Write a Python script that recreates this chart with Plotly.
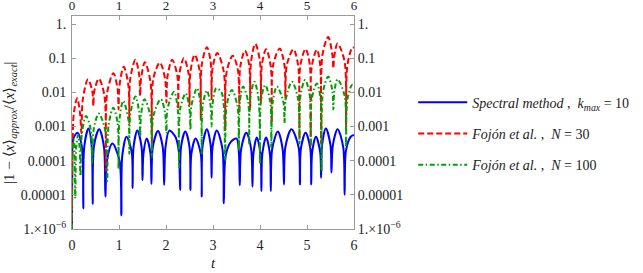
import plotly.graph_objects as go

# ---- data (log10 of the plotted quantity) ----
blue_t = [0.0, 0.005, 0.03, 0.12, 0.21, 0.24,
          0.26, 0.35, 0.42, 0.44,
          0.47, 0.58, 0.68, 0.71,
          0.75, 0.86, 1.01, 1.05,
          1.07, 1.16, 1.27, 1.29,
          1.31, 1.39, 1.48, 1.50,
          1.52, 1.59, 1.67, 1.69,
          1.72, 1.83, 1.93, 1.96,
          1.99, 2.07, 2.20, 2.27, 2.30,
          2.32, 2.41, 2.50, 2.52,
          2.54, 2.63, 2.74, 2.76,
          2.78, 2.87, 2.95, 2.97,
          2.99, 3.08, 3.20, 3.23,
          3.27, 3.38, 3.50, 3.55, 3.57,
          3.60, 3.71, 3.81, 3.84,
          3.86, 3.93, 4.01, 4.03,
          4.05, 4.13, 4.21, 4.23,
          4.26, 4.38, 4.48, 4.51,
          4.54, 4.67, 4.82, 4.85,
          4.87, 4.97, 5.07, 5.09,
          5.11, 5.19, 5.28, 5.30,
          5.32, 5.40, 5.50, 5.52,
          5.55, 5.65, 5.77, 5.80,
          5.83, 5.93, 6.0]
blue_log10 = [-6.0, -4.5, -3.35, -3.18, -3.6, -5.4,
              -3.6, -3.06, -3.6, -5.27,
              -3.55, -3.08, -3.6, -5.05,
              -3.95, -3.5, -4.0, -5.6,
              -3.85, -3.3, -3.75, -4.8,
              -3.6, -3.12, -3.6, -4.57,
              -3.8, -3.35, -3.8, -4.68,
              -3.6, -3.13, -3.6, -4.71,
              -3.6, -3.12, -3.3, -3.7, -4.86,
              -3.6, -3.15, -3.6, -4.86,
              -3.8, -3.35, -3.8, -5.05,
              -3.55, -3.08, -3.55, -4.5,
              -3.6, -3.12, -3.65, -5.25,
              -3.85, -3.45, -3.35, -3.75, -4.72,
              -3.65, -3.18, -3.65, -4.76,
              -3.8, -3.32, -3.8, -4.89,
              -3.8, -3.32, -3.8, -4.89,
              -3.65, -3.15, -3.65, -4.7,
              -3.6, -3.08, -3.6, -4.7,
              -3.65, -3.18, -3.65, -4.7,
              -3.75, -3.3, -3.75, -4.5,
              -3.55, -3.06, -3.55, -4.35,
              -3.55, -3.08, -3.6, -5.0,
              -3.7, -3.3, -3.25]

red_t = [0.0, 0.01, 0.04, 0.11, 0.17, 0.20,
         0.23, 0.34, 0.43, 0.455,
         0.47, 0.57, 0.69, 0.72,
         0.75, 0.88, 0.97, 0.99,
         1.01, 1.10, 1.20, 1.22,
         1.24, 1.35, 1.43, 1.45,
         1.47, 1.55, 1.67, 1.70,
         1.73, 1.87, 1.98, 2.01,
         2.03, 2.13, 2.24, 2.26,
         2.28, 2.38, 2.48, 2.50,
         2.52, 2.61, 2.72, 2.74,
         2.76, 2.87, 2.95, 2.97,
         2.99, 3.09, 3.23, 3.26,
         3.29, 3.42, 3.53, 3.56,
         3.58, 3.68, 3.77, 3.79,
         3.81, 3.90, 4.00, 4.02,
         4.04, 4.13, 4.23, 4.25,
         4.28, 4.42, 4.52, 4.54,
         4.57, 4.71, 4.81, 4.84,
         4.86, 4.97, 5.06, 5.08,
         5.10, 5.21, 5.28, 5.30,
         5.33, 5.45, 5.54, 5.56,
         5.58, 5.65, 5.80, 5.83,
         5.86, 5.97, 6.0]
red_log10 = [-6.0, -3.8, -2.6, -2.17, -2.6, -3.2,
             -2.2, -1.62, -1.95, -2.4,
             -2.0, -1.6, -2.1, -4.3,
             -2.0, -1.44, -1.9, -2.5,
             -1.8, -1.25, -1.8, -2.9,
             -1.6, -1.05, -1.5, -2.1,
             -1.6, -1.12, -1.7, -3.5,
             -1.6, -1.13, -1.6, -2.3,
             -1.55, -1.05, -1.5, -2.5,
             -1.5, -1.0, -1.45, -2.4,
             -1.4, -0.9, -1.4, -2.8,
             -1.2, -0.68, -1.1, -2.2,
             -1.3, -0.85, -1.4, -3.1,
             -1.4, -0.93, -1.35, -2.6,
             -1.25, -0.78, -1.2, -2.5,
             -1.1, -0.58, -1.1, -2.3,
             -1.2, -0.74, -1.25, -2.9,
             -1.2, -0.72, -1.2, -2.2,
             -1.2, -0.74, -1.2, -3.35,
             -1.2, -0.73, -1.2, -3.6,
             -1.25, -0.75, -1.2, -3.5,
             -0.9, -0.38, -0.9, -1.3,
             -0.95, -0.57, -1.1, -3.0,
             -1.2, -0.68, -0.7]

green_t = [0.0, 0.015, 0.04, 0.07, 0.09, 0.13, 0.16, 0.18,
           0.21, 0.30, 0.40, 0.43,
           0.46, 0.57, 0.72, 0.75,
           0.78, 0.88, 0.97, 0.99,
           1.01, 1.09, 1.20, 1.22,
           1.24, 1.35, 1.43, 1.45,
           1.47, 1.54, 1.67, 1.70,
           1.73, 1.89, 1.98, 2.01,
           2.03, 2.17, 2.25, 2.28,
           2.30, 2.42, 2.50, 2.52,
           2.54, 2.66, 2.74, 2.76,
           2.78, 2.87, 2.95, 2.97,
           2.99, 3.07, 3.18, 3.23, 3.26,
           3.29, 3.40, 3.52, 3.55,
           3.57, 3.64, 3.75, 3.77,
           3.79, 3.88, 3.97, 4.00,
           4.02, 4.11, 4.22, 4.24,
           4.27, 4.36, 4.50, 4.52,
           4.55, 4.68, 4.81, 4.84,
           4.86, 4.96, 5.06, 5.08,
           5.10, 5.21, 5.29, 5.31,
           5.34, 5.45, 5.54, 5.56,
           5.58, 5.65, 5.80, 5.83,
           5.86, 5.96, 6.0]
green_log10 = [-6.0, -3.6, -3.4, -5.1, -3.6, -3.25, -3.6, -4.45,
               -3.2, -2.69, -3.1, -4.06,
               -3.1, -2.62, -3.2, -4.6,
               -2.95, -2.45, -2.9, -4.25,
               -2.8, -2.25, -2.8, -3.8,
               -2.65, -2.12, -2.6, -3.3,
               -2.65, -2.2, -2.7, -3.9,
               -2.7, -2.2, -2.6, -3.2,
               -2.5, -1.98, -2.5, -4.2,
               -2.5, -2.03, -2.5, -3.1,
               -2.4, -1.88, -2.4, -3.8,
               -2.4, -1.95, -2.4, -3.0,
               -2.35, -1.88, -2.0, -2.4, -4.0,
               -2.4, -1.93, -2.4, -3.7,
               -2.3, -1.83, -2.3, -3.5,
               -2.2, -1.69, -2.2, -4.1,
               -2.25, -1.79, -2.3, -3.6,
               -2.3, -1.83, -2.3, -2.9,
               -2.2, -1.69, -2.2, -3.5,
               -2.1, -1.64, -2.1, -3.6,
               -2.2, -1.74, -2.2, -4.3,
               -2.0, -1.54, -1.95, -2.5,
               -2.0, -1.62, -2.1, -3.6,
               -2.2, -1.78, -1.8]

x_ticks = [0, 1, 2, 3, 4, 5, 6]
y_tickvals = [1e-6, 1e-5, 1e-4, 1e-3, 1e-2, 1e-1, 1]
y_ticktext = ["1.×10<sup>−6</sup>", "0.00001", "0.0001", "0.001", "0.01", "0.1", "1."]

names = ["<i>Spectral method</i> ,  <i>k</i><sub><i>max</i></sub> = 10",
         "<i>Fojón et al.</i> ,  <i>N</i> = 30",
         "<i>Fojón et al.</i> ,  <i>N</i> = 100"]

FONT = "Liberation Serif"
AXC = "#9a9a9a"

fig = go.Figure()
series = [(blue_t, blue_log10, "#0000ff", "solid"),
          (red_t, red_log10, "#ff0000", "6px,3px"),
          (green_t, green_log10, "#00a000", "5px,2.5px,1.5px,2.5px")]
for i, (t, lg, col, dash) in enumerate(series):
    fig.add_trace(go.Scatter(
        x=t, y=[10 ** v for v in lg], mode="lines", name=names[i],
        legendgroup=f"g{i}",
        line=dict(color=col, width=2, dash=dash, shape="spline", smoothing=0.9),
    ))
# invisible trace to carry top/right axes
fig.add_trace(go.Scatter(x=[None], y=[None], xaxis="x2", yaxis="y2",
                         showlegend=False, hoverinfo="skip"))

common_x = dict(range=[0, 6], tickvals=x_ticks, ticks="inside", ticklen=4,
                tickcolor=AXC, showline=True, linecolor=AXC, linewidth=1,
                showgrid=False, zeroline=False, automargin=False,
                tickfont=dict(family=FONT, size=14, color="#222"))
common_y = dict(type="log", range=[-6, 0.234], tickvals=y_tickvals,
                ticktext=y_ticktext, ticks="inside", ticklen=4, tickcolor=AXC,
                showline=True, linecolor=AXC, linewidth=1, showgrid=False,
                zeroline=False, automargin=False,
                tickfont=dict(family=FONT, size=14, color="#222"))

top_x = dict(common_x)
top_x["tickfont"] = dict(family=FONT, size=13, color="#222")

fig.update_layout(
    width=643, height=273,
    margin=dict(l=72, r=289, t=16, b=44, autoexpand=False),
    paper_bgcolor="white", plot_bgcolor="white",
    font=dict(family=FONT),
    xaxis=dict(**common_x, ticklabelstandoff=3),
    xaxis2=dict(**top_x, overlaying="x", side="top", anchor="y"),
    yaxis=dict(**common_y, ticklabelstandoff=2),
    yaxis2=dict(**common_y, overlaying="y", side="right", anchor="x"),
    showlegend=True,
    legend=dict(x=1.21, y=0.668, xanchor="left", yanchor="top",
                traceorder="grouped", tracegroupgap=10, itemwidth=49,
                font=dict(family=FONT, size=14, color="#222"),
                bgcolor="rgba(0,0,0,0)"),
    annotations=[
        dict(text="|1 − ⟨<i>x</i>⟩<sub><i>approx</i></sub>/⟨<i>x</i>⟩<sub><i>exact</i></sub>|",
             xref="paper", yref="paper", x=-0.222, y=0.5, textangle=-90,
             showarrow=False, xanchor="center", yanchor="middle",
             font=dict(family=FONT, size=15, color="#222")),
        dict(text="<i>t</i>", xref="paper", yref="paper", x=0.5, y=-0.16,
             showarrow=False, xanchor="center", yanchor="middle",
             font=dict(family=FONT, size=15, color="#222")),
    ],
)

fig.write_html("out.html", config={"displayModeBar": False},
               post_script="document.body.style.margin='0';document.body.style.overflow='hidden';")
